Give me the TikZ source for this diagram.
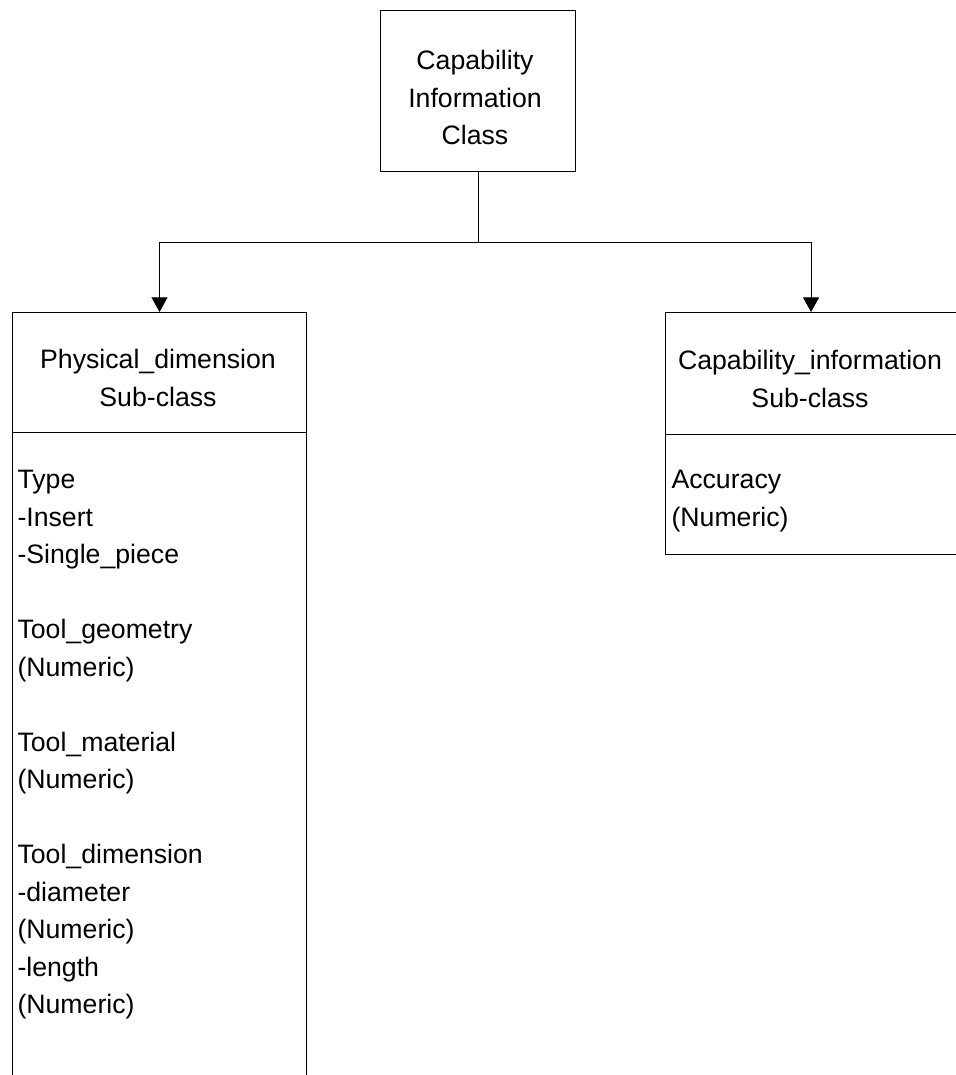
\documentclass[tikz,border=0pt]{standalone}
\usepackage{fontspec}
\setmainfont{Liberation Sans}
\usetikzlibrary{arrows.meta,calc}

\begin{document}
\begin{tikzpicture}[
    x=0.75pt, y=-0.75pt,
    line width=0.8pt,
    box/.style={draw=black, rectangle, inner sep=0pt, anchor=north west},
    label/.style={inner sep=0pt, font=\fontsize{20}{28.125}\selectfont},
    centred/.style={label, align=center, anchor=north},
    listing/.style={label, align=left, anchor=north west},
    link/.style={draw=black, line width=0.8pt},
    arrowlink/.style={link, -{Triangle[length=11pt, width=12pt]}}
  ]
  % page frame
  \useasboundingbox (0,0) rectangle (956,1075);
  \clip (0,0) rectangle (956,1075);
  \fill[white] (0,0) rectangle (956,1075);

  % parent class
  \node[box, minimum width=146.25pt, minimum height=120.75pt] (top) at (380,10) {};
  \node[centred] (toptext) at (475,42.75) {\strut Capability\\Information\\Class};

  % physical dimension sub-class
  \node[box, minimum width=220.5pt, minimum height=90pt] (lh) at (12,312) {};
  \node[box, minimum width=220.5pt, minimum height=525pt] (lb) at (12,432) {};
  \node[centred] (lhtext) at (158,342) {\strut Physical\_dimension\\Sub-class};

  \node[listing] (ltype) at (17,461.75) {\strut Type\\-Insert\\-Single\_piece};
  \node[listing] (lgeom) at (17,611.75) {\strut Tool\_geometry\\(Numeric)};
  \node[listing] (lmat) at (17,724.25) {\strut Tool\_material\\(Numeric)};
  \node[listing] (ldim) at (17,836.75) {\strut Tool\_dimension\\-diameter\\(Numeric)\\-length\\(Numeric)};

  % capability information sub-class
  \node[box, minimum width=218.25pt, minimum height=91.5pt] (rh) at (665,312) {};
  \node[box, minimum width=218.25pt, minimum height=90pt] (rb) at (665,434) {};
  \node[centred] (rhtext) at (810,343) {\strut Capability\_information\\Sub-class};
  \node[listing] (racc) at (671,461.75) {\strut Accuracy\\(Numeric)};

  % connectors
  \coordinate (j) at ($(top.south)+(0,70)$);
  \draw[link] (top.south) -- (j);
  \draw[arrowlink] (j) -| (lh.north);
  \draw[arrowlink] (j) -| (rh.north);
\end{tikzpicture}
\end{document}
